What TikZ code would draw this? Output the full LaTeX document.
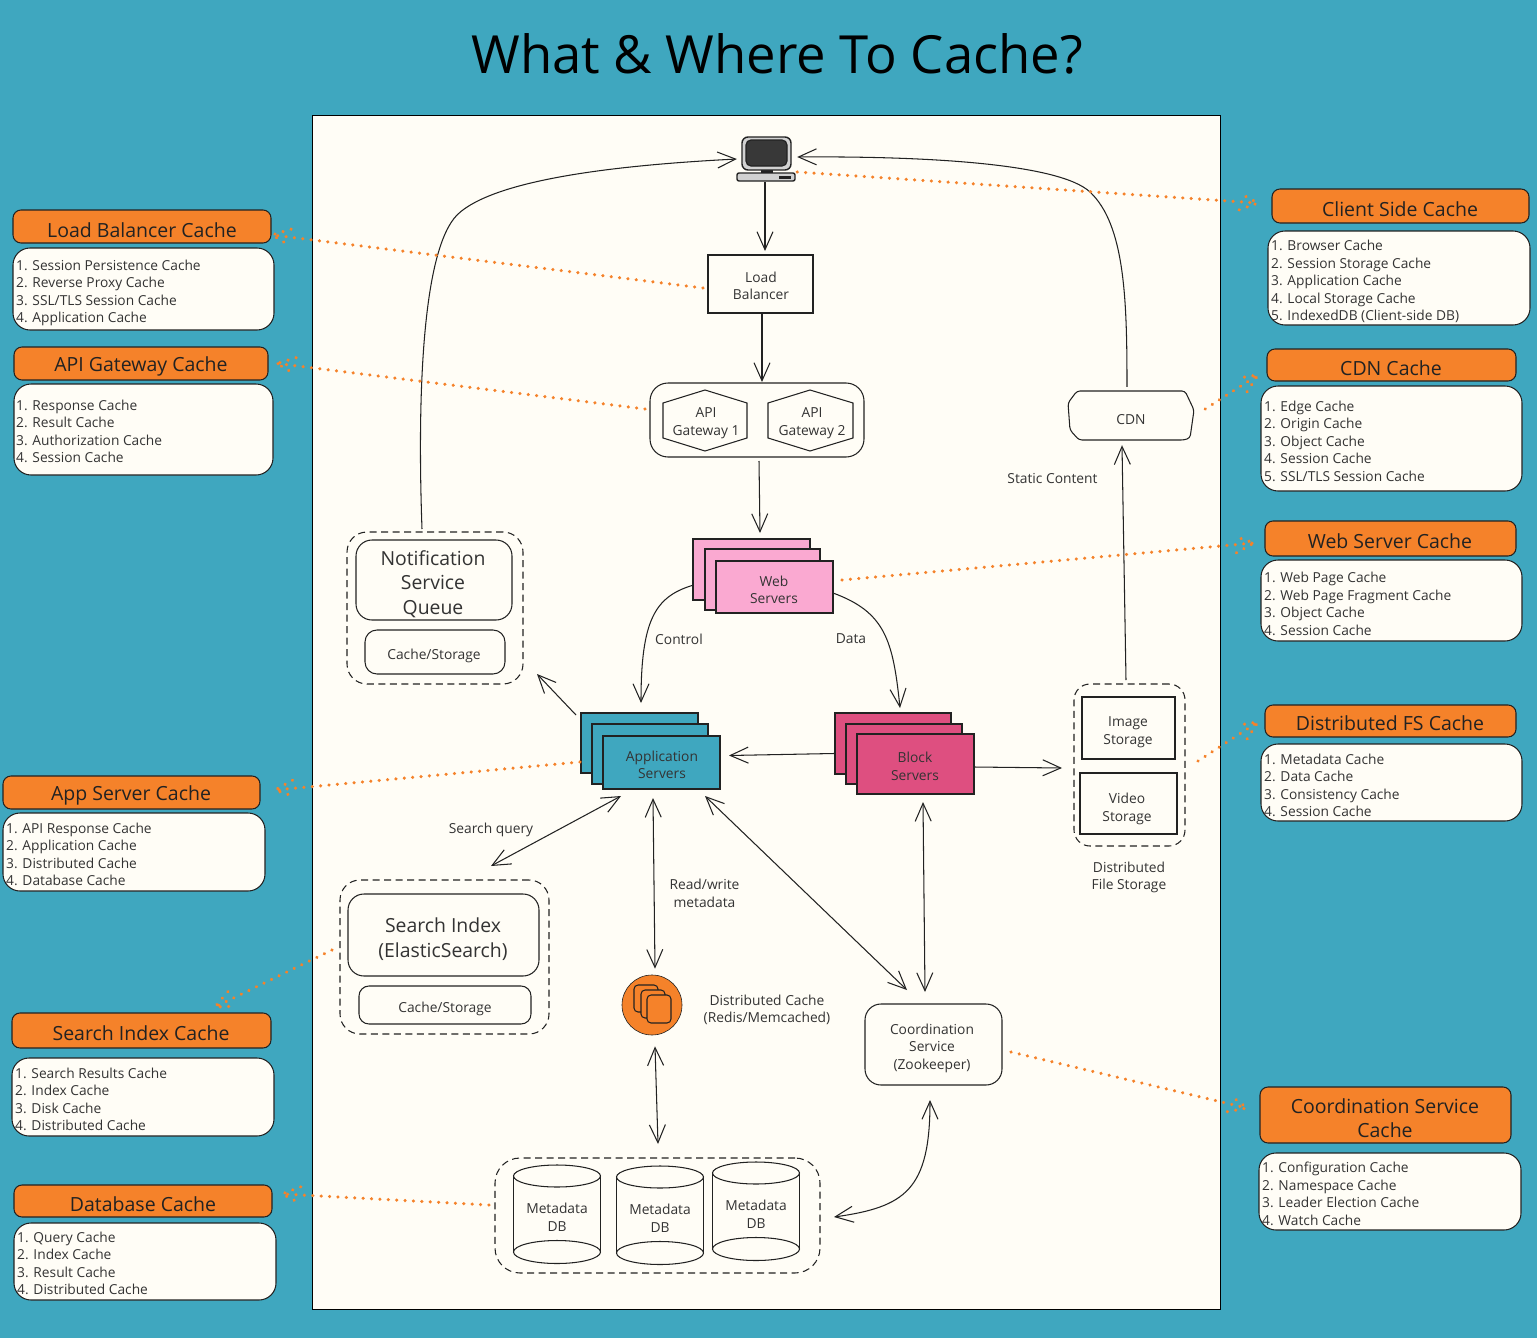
\documentclass[tikz,border=0pt]{standalone}
\usepackage{fontspec}
\setmainfont{Open Sans}
\usetikzlibrary{arrows.meta,calc}
\definecolor{teal}{HTML}{3FA7BF}
\definecolor{paper}{HTML}{FFFDF6}
\definecolor{cacheorange}{HTML}{F5822A}
\definecolor{webpink}{HTML}{FAA9D1}
\definecolor{blockred}{HTML}{DE4F80}
\definecolor{ink}{HTML}{222222}
\definecolor{labelgrey}{HTML}{333333}
\tikzset{
  sk/.style={draw=ink,line width=1.05pt},
  box/.style={sk,anchor=north west,inner sep=0pt,outer sep=0pt},
  cardhead/.style={box,fill=cacheorange,rounded corners=8pt},
  cardbody/.style={box,fill=paper,rounded corners=17pt},
  txt/.style={inner sep=0pt,align=center,text=labelgrey,font=\fontsize{13.8}{17.5}\selectfont},
  bigtxt/.style={inner sep=0pt,align=center,text=labelgrey,font=\fontsize{19.4}{24.5}\selectfont},
  headtxt/.style={inner sep=0pt,align=center,text=ink,font=\fontsize{19.5}{24}\selectfont},
  listtxt/.style={inner sep=0pt,align=left,anchor=west,text=labelgrey,font=\fontsize{13.75}{17.5}\selectfont},
  grouped/.style={box,dashed,dash pattern=on 7pt off 4.5pt,rounded corners=20pt},
  conn/.style={sk,>={Straight Barb[length=18pt,width=16pt]}},
  dotlink/.style={draw=cacheorange,line width=3.4pt,line cap=round,dash pattern=on .1pt off 8.3pt},
}
\newcommand{\cachelink}[2]{
  \coordinate (linka) at (#1);
  \coordinate (linkb) at (#2);
  \draw[dotlink] (linka) -- (linkb);
  \draw[dotlink] ($(linkb)!20pt!24:(linka)$) -- (linkb) -- ($(linkb)!20pt!-24:(linka)$);
}
\begin{document}
\begin{tikzpicture}[x=1pt,y=-1pt]
\useasboundingbox (0,0) rectangle (1537,1338);
\fill[teal] (0,0) rectangle (1537,1338);
\draw[black,line width=1pt,fill=paper] (312.5,115.5) rectangle (1220.5,1309);
\node[inner sep=0pt,text=black,font=\fontsize{52.6}{60}\selectfont] (title) at (777,54) {What \& Where To Cache?};

% client machine
\node[inner sep=0pt,minimum width=58pt,minimum height=44pt] (client) at (766,159) {};
\draw[sk,line width=1.4pt,fill=ink] (762,169) rectangle (772,174);
\draw[sk,line width=1.4pt,fill=black!18,rounded corners=6pt] (742,137) rectangle (791,170);
\draw[sk,line width=1.2pt,fill=black!78,rounded corners=5pt] (746,140) rectangle (787,166);
\draw[sk,line width=1.4pt,fill=black!18,rounded corners=2pt] (737,173) rectangle (795,181);
\fill[ink] (779,175.5) rectangle (791,178.5);

% load balancer and gateways
\node[box,minimum width=105pt,minimum height=58pt] (lb) at (708,255) {};
\node[txt] (lbtxt) at (761,286) {Load\\Balancer};
\node[box,rounded corners=18pt,minimum width=214pt,minimum height=74pt] (apigroup) at (650,383) {};
\draw[sk] (663,403) -- (705,390) -- (747,403) -- (747,438) -- (705,451) -- (663,438) -- cycle;
\node[txt] (gw1) at (706,423) {API\\Gateway 1};
\draw[sk] (768,403) -- (810,390) -- (853,403) -- (853,438) -- (810,451) -- (768,438) -- cycle;
\node[txt] (gw2) at (812,423) {API\\Gateway 2};

% server stacks
\node[box,fill=webpink,minimum width=117pt,minimum height=61pt] (webback) at (693,539) {};
\node[box,fill=webpink,minimum width=115pt,minimum height=61pt] (webmid) at (705,549) {};
\node[box,fill=webpink,minimum width=117pt,minimum height=52pt] (webfront) at (716,561) {};
\node[txt] (webtxt) at (774,590) {Web\\Servers};
\node[box,fill=teal,minimum width=117pt,minimum height=60pt] (appback) at (581,713) {};
\node[box,fill=teal,minimum width=116pt,minimum height=60pt] (appmid) at (592,724) {};
\node[box,fill=teal,minimum width=117pt,minimum height=53pt] (appfront) at (603,736) {};
\node[txt] (apptxt) at (662,765) {Application\\Servers};
\node[box,fill=blockred,minimum width=116pt,minimum height=61pt] (blockback) at (835,713) {};
\node[box,fill=blockred,minimum width=116pt,minimum height=60pt] (blockmid) at (846,724) {};
\node[box,fill=blockred,minimum width=117pt,minimum height=60pt] (blockfront) at (857,734) {};
\node[txt] (blocktxt) at (915,766.5) {Block\\Servers};

% notification queue
\node[grouped,minimum width=176pt,minimum height=152pt] (notifgroup) at (347,532) {};
\node[box,rounded corners=16pt,minimum width=156pt,minimum height=80pt] (notif) at (356,540) {};
\node[bigtxt] (notiftxt) at (433,584) {Notification\\Service\\Queue};
\node[box,rounded corners=12pt,minimum width=140pt,minimum height=44pt] (notifcache) at (365,630) {};
\node[txt] (notifcachetxt) at (434,656) {Cache/Storage};

% search index
\node[grouped,minimum width=209pt,minimum height=154pt] (searchgroup) at (340,880) {};
\node[box,rounded corners=16pt,minimum width=191pt,minimum height=82pt] (search) at (348,894) {};
\node[bigtxt] (searchtxt) at (443,939) {Search Index\\(ElasticSearch)};
\node[box,rounded corners=10pt,minimum width=172pt,minimum height=38pt] (searchcache) at (359,986) {};
\node[txt] (searchcachetxt) at (445,1009) {Cache/Storage};

% distributed cache
\node[circle,sk,line width=.6pt,fill=cacheorange,minimum size=60pt,inner sep=0pt] (dcache) at (652,1005) {};
\draw[sk,fill=cacheorange,rounded corners=4pt] (634,985) rectangle (658,1012);
\draw[sk,fill=cacheorange,rounded corners=4pt] (641,990) rectangle (665,1018);
\draw[sk,fill=cacheorange,rounded corners=4pt] (647,995) rectangle (671,1023);
\node[txt] (dcachetxt) at (767,1010) {Distributed Cache\\(Redis/Memcached)};

% coordination
\node[box,rounded corners=16pt,minimum width=137pt,minimum height=81pt] (coord) at (865,1004) {};
\node[txt] (coordtxt) at (932,1048) {Coordination\\Service\\(Zookeeper)};

% metadata databases
\node[grouped,rounded corners=25pt,minimum width=325pt,minimum height=115pt] (dbgroup) at (495,1158) {};
\foreach \x/\y/\dbname in {557/1176/dba,660/1177/dbb,756/1173/dbc}{
  \draw[sk] (\x-43.5,\y) -- (\x-43.5,\y+76) (\x+43.5,\y) -- (\x+43.5,\y+76);
  \draw[sk] (\x,\y) ellipse (43.5pt and 11pt);
  \draw[sk] (\x,\y+76) ellipse (43.5pt and 11.5pt);
  \node[txt] (\dbname) at (\x,\y+41) {Metadata\\DB};
}

% file storage
\node[grouped,rounded corners=16pt,minimum width=111pt,minimum height=162pt] (storage) at (1074,684) {};
\node[box,minimum width=93pt,minimum height=62pt] (imagestore) at (1082,697) {};
\node[txt] (imagetxt) at (1128,732) {Image\\Storage};
\node[box,minimum width=97pt,minimum height=61pt] (videostore) at (1080,773) {};
\node[txt] (videotxt) at (1127,809) {Video\\Storage};
\node[txt] (storagetxt) at (1129,877.5) {Distributed\\File Storage};

% cdn
\node[inner sep=0pt,minimum width=126pt,minimum height=48pt] (cdn) at (1131,416) {};
\draw[sk,rounded corners=3pt] (1077,391) -- (1185,391) -- (1194,410) -- (1190,438) -- (1184,440) -- (1079,440) -- (1070,430) -- (1068,403) -- cycle;
\node[txt] (cdntxt) at (1131,420) {CDN};

% connector labels
\node[txt] (ctrltxt) at (679,639) {Control};
\node[txt] (datatxt) at (851,639) {Data};
\node[txt] (querytxt) at (491,830) {Search query};
\node[txt] (rwtxt) at (704.5,893.5) {Read/write\\metadata};
\node[txt] (statictxt) at (1052.5,478) {Static Content};

% connectors
\draw[conn,->] ([yshift=-1pt,xshift=-1pt]client.south) -- ([xshift=4.5pt,yshift=4pt]lb.north);
\draw[conn,->] ([xshift=1.5pt]lb.south) -- ([xshift=5pt,yshift=1pt]apigroup.north);
\draw[conn,->] ([xshift=2pt,yshift=-4pt]apigroup.south) -- ([xshift=8.5pt,yshift=6pt]webback.north);
\draw[conn,->] ([xshift=-1pt,yshift=-16pt]webback.west) .. controls (655,597) and (641,620) .. ([xshift=1.5pt,yshift=10pt]appback.north);
\draw[conn,->] ([yshift=-6pt]webfront.east) .. controls (885,612) and (893,640) .. ([xshift=7pt,yshift=5pt]blockback.north);
\draw[conn,->] ([xshift=-1pt,yshift=-10pt]blockback.west) -- ([xshift=9pt,yshift=7pt]appfront.east);
\draw[conn,->] ([yshift=-3pt]blockfront.east) -- ([xshift=-12pt,yshift=-3pt]storage.west);
\draw[conn,->] ([xshift=-5pt,yshift=-2pt]appback.north west) -- ([xshift=14pt,yshift=10pt]notifgroup.south east);
\draw[conn,->] ([xshift=-13pt,yshift=3pt]notifgroup.north) .. controls (417,390) and (423,250) .. (457,215) .. controls (497,176) and (640,164) .. (client.west);
\draw[conn,<->] ([xshift=18pt,yshift=-7pt]appfront.south west) -- ([xshift=46.5pt,yshift=14pt]searchgroup.north);
\draw[conn,<->] ([xshift=-8.5pt,yshift=-9pt]appfront.south) -- ([xshift=3pt,yshift=6pt]dcache.north);
\draw[conn,<->] ([xshift=-15pt,yshift=-7pt]appfront.south east) -- ([xshift=-26.5pt,yshift=14pt]coord.north);
\draw[conn,<->] ([xshift=7.5pt,yshift=-8pt]blockfront.south) -- ([xshift=-8.5pt,yshift=12pt]coord.north);
\draw[conn,<->] ([xshift=3pt,yshift=-11pt]dcache.south) -- ([xshift=.5pt,yshift=14pt]dbgroup.north);
\draw[conn,<->] ([xshift=-3.5pt,yshift=-15pt]coord.south) .. controls (930,1190) and (905,1207) .. ([xshift=14pt,yshift=-1.5pt]dbgroup.east);
\draw[conn,->] ([xshift=-3.5pt,yshift=4pt]storage.north) -- ([xshift=-9pt,yshift=-5pt]cdn.south);
\draw[conn,->] ([xshift=-4pt,yshift=5pt]cdn.north) .. controls (1127,300) and (1125,225) .. (1090,192) .. controls (1060,164) and (930,156) .. ([xshift=2pt,yshift=2pt]client.east);

% cache cards, left
\node[cardhead,minimum width=258pt,minimum height=33pt] (lbhead) at (13,210) {};
\node[headtxt] (lbheadtxt) at (142,230) {Load Balancer Cache};
\node[cardbody,minimum width=261pt,minimum height=82pt] (lbbody) at (13,248) {};
\node[listtxt] (lblist) at (16,293) {1. Session Persistence Cache\\2. Reverse Proxy Cache\\3. SSL/TLS Session Cache\\4. Application Cache};

\node[cardhead,minimum width=254pt,minimum height=33pt] (apihead) at (14,347) {};
\node[headtxt] (apiheadtxt) at (141,366) {API Gateway Cache};
\node[cardbody,minimum width=259pt,minimum height=91pt] (apibody) at (14,384) {};
\node[listtxt] (apilist) at (16,431.5) {1. Response Cache\\2. Result Cache\\3. Authorization Cache\\4. Session Cache};

\node[cardhead,minimum width=257pt,minimum height=33pt] (appshead) at (3,776) {};
\node[headtxt] (appsheadtxt) at (131,795) {App Server Cache};
\node[cardbody,minimum width=262pt,minimum height=78pt] (appsbody) at (3,813) {};
\node[listtxt] (appslist) at (6,854.5) {1. API Response Cache\\2. Application Cache\\3. Distributed Cache\\4. Database Cache};

\node[cardhead,minimum width=259pt,minimum height=35pt] (searchhead) at (12,1013) {};
\node[headtxt] (searchheadtxt) at (141,1033) {Search Index Cache};
\node[cardbody,minimum width=262pt,minimum height=78pt] (searchbody) at (12,1058) {};
\node[listtxt] (searchlist) at (15,1099.5) {1. Search Results Cache\\2. Index Cache\\3. Disk Cache\\4. Distributed Cache};

\node[cardhead,minimum width=258pt,minimum height=32pt] (dbhead) at (14,1185) {};
\node[headtxt] (dbheadtxt) at (143,1204) {Database Cache};
\node[cardbody,minimum width=262pt,minimum height=77pt] (dbbody) at (14,1223) {};
\node[listtxt] (dblist) at (17,1263.5) {1. Query Cache\\2. Index Cache\\3. Result Cache\\4. Distributed Cache};

% cache cards, right
\node[cardhead,minimum width=257pt,minimum height=34pt] (clienthead) at (1272,189) {};
\node[headtxt] (clientheadtxt) at (1400,209) {Client Side Cache};
\node[cardbody,minimum width=262pt,minimum height=94pt] (clientbody) at (1268,231) {};
\node[listtxt] (clientlist) at (1271,281.5) {1. Browser Cache\\2. Session Storage Cache\\3. Application Cache\\4. Local Storage Cache\\5. IndexedDB (Client-side DB)};

\node[cardhead,minimum width=249pt,minimum height=32pt] (cdnhead) at (1267,349) {};
\node[headtxt] (cdnheadtxt) at (1391,368) {CDN Cache};
\node[cardbody,minimum width=261pt,minimum height=105pt] (cdnbody) at (1261,386) {};
\node[listtxt] (cdnlist) at (1264,441) {1. Edge Cache\\2. Origin Cache\\3. Object Cache\\4. Session Cache\\5. SSL/TLS Session Cache};

\node[cardhead,minimum width=251pt,minimum height=35pt] (webhead) at (1265,521) {};
\node[headtxt] (webheadtxt) at (1390,541) {Web Server Cache};
\node[cardbody,minimum width=261pt,minimum height=81pt] (webbody) at (1261,560) {};
\node[listtxt] (weblist) at (1264,604) {1. Web Page Cache\\2. Web Page Fragment Cache\\3. Object Cache\\4. Session Cache};

\node[cardhead,minimum width=251pt,minimum height=32pt] (dfshead) at (1265,705) {};
\node[headtxt] (dfsheadtxt) at (1390,723) {Distributed FS Cache};
\node[cardbody,minimum width=261pt,minimum height=77pt] (dfsbody) at (1261,744) {};
\node[listtxt] (dfslist) at (1264,785.5) {1. Metadata Cache\\2. Data Cache\\3. Consistency Cache\\4. Session Cache};

\node[cardhead,minimum width=251pt,minimum height=56pt] (coordhead) at (1260,1087) {};
\node[headtxt] (coordheadtxt) at (1385,1118) {Coordination Service\\Cache};
\node[cardbody,minimum width=262pt,minimum height=77pt] (coordbody) at (1259,1153) {};
\node[listtxt] (coordlist) at (1262,1194) {1. Configuration Cache\\2. Namespace Cache\\3. Leader Election Cache\\4. Watch Cache};

% dotted cache links
\cachelink{[xshift=2pt,yshift=-13pt]client.east}{[xshift=-14pt,yshift=3pt]clienthead.west}
\cachelink{[xshift=-5pt,yshift=-4pt]lb.west}{[xshift=1pt,yshift=-8.5pt]lbhead.east}
\cachelink{[xshift=-5pt,yshift=11pt]apigroup.west}{[xshift=9pt]apihead.east}
\cachelink{[xshift=11pt,yshift=7pt]cdn.east}{[xshift=-9pt,yshift=-10pt]cdnhead.west}
\cachelink{[xshift=9pt,yshift=7pt]webfront.east}{[xshift=-11pt,yshift=-4.5pt]webhead.west}
\cachelink{[xshift=13pt,yshift=4pt]storage.east}{[xshift=-7pt,yshift=-1pt]dfshead.west}
\cachelink{[xshift=-1pt,yshift=-19pt]appback.west}{[xshift=15pt,yshift=2.5pt]appshead.east}
\cachelink{[xshift=-8pt,yshift=7pt]searchgroup.west}{[xshift=73.5pt,yshift=6pt]searchhead.north}
\cachelink{[xshift=-6pt,yshift=10.5pt]dbgroup.west}{[xshift=10pt,yshift=7pt]dbhead.east}
\cachelink{[xshift=9pt,yshift=-7.5pt]coord.east}{[xshift=-13pt,yshift=7pt]coordhead.west}
\end{tikzpicture}
\end{document}
